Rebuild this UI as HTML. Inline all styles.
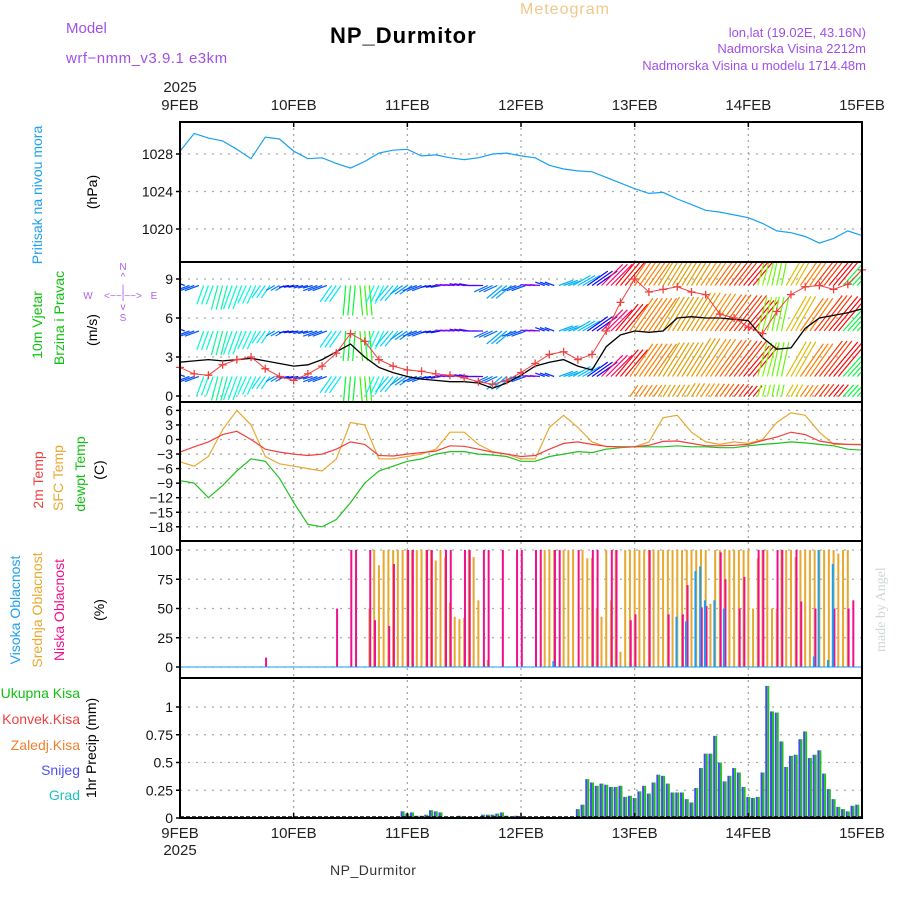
<!DOCTYPE html>
<html><head><meta charset="utf-8"><style>
html,body{margin:0;padding:0;background:#fff;}
svg{display:block;font-family:"Liberation Sans",sans-serif;}
</style></head><body>
<svg id="chart" width="900" height="900" viewBox="0 0 900 900" xmlns="http://www.w3.org/2000/svg">
<defs>
<clipPath id="clipWind"><rect x="180" y="263" width="682" height="138"/></clipPath>
</defs>
<g>
<text x="66" y="33" font-size="15" fill="#a050e8">Model</text>
<text x="66" y="63" font-size="15" fill="#a050e8" letter-spacing="0.5">wrf−nmm_v3.9.1 e3km</text>
<text x="520" y="14" font-size="16" fill="#f0c888" letter-spacing="1">Meteogram</text>
<text x="330" y="43" font-size="22" font-weight="bold" fill="#000" letter-spacing="1">NP_Durmitor</text>
<text x="866" y="37" font-size="13" fill="#a050e8" text-anchor="end">lon,lat (19.02E, 43.16N)</text>
<text x="866" y="53" font-size="13" fill="#a050e8" text-anchor="end">Nadmorska Visina 2212m</text>
<text x="866" y="70" font-size="13" fill="#a050e8" text-anchor="end">Nadmorska Visina u modelu 1714.48m</text>
<text x="330" y="875" font-size="14" fill="#333" letter-spacing="0.5">NP_Durmitor</text>
<text transform="translate(885,652) rotate(-90)" font-size="14" fill="#d0d8d0" font-family="Liberation Serif,serif">made by Angel</text>
</g>
<g font-size="14">
<text transform="translate(42,195) rotate(-90)" text-anchor="middle" fill="#20a0f0">Pritisak na nivou mora</text>
<text transform="translate(97,192) rotate(-90)" text-anchor="middle" fill="#000">(hPa)</text>
<text transform="translate(42,325) rotate(-90)" text-anchor="middle" fill="#10c010">10m Vjetar</text>
<text transform="translate(64,318) rotate(-90)" text-anchor="middle" fill="#10c010">Brzina i Pravac</text>
<text transform="translate(97,330) rotate(-90)" text-anchor="middle" fill="#000">(m/s)</text>
<g fill="#b060f0" font-size="10">
<text x="123" y="270" text-anchor="middle">N</text>
<text x="123" y="280" text-anchor="middle">^</text>
<text x="123" y="292" text-anchor="middle">|</text>
<text x="123" y="310" text-anchor="middle">v</text>
<text x="123" y="321" text-anchor="middle">S</text>
<text x="88" y="299" text-anchor="middle">W</text>
<text x="123" y="299" text-anchor="middle">&lt;−−|−−&gt;</text>
<text x="154" y="299" text-anchor="middle">E</text>
</g>
<text transform="translate(43,480) rotate(-90)" text-anchor="middle" fill="#f04040">2m Temp</text>
<text transform="translate(63,478) rotate(-90)" text-anchor="middle" fill="#e8a830">SFC Temp</text>
<text transform="translate(85,474) rotate(-90)" text-anchor="middle" fill="#10c010">dewpt Temp</text>
<text transform="translate(104,470) rotate(-90)" text-anchor="middle" fill="#000">(C)</text>
<text transform="translate(20,610) rotate(-90)" text-anchor="middle" fill="#20a0f0">Visoka Oblacnost</text>
<text transform="translate(42,610) rotate(-90)" text-anchor="middle" fill="#e8a830">Srednja Oblacnost</text>
<text transform="translate(64,610) rotate(-90)" text-anchor="middle" fill="#f0108a">Niska Oblacnost</text>
<text transform="translate(104,610) rotate(-90)" text-anchor="middle" fill="#000">(%)</text>
<text x="80" y="698" text-anchor="end" fill="#10c010">Ukupna Kisa</text>
<text x="80" y="724" text-anchor="end" fill="#f04040">Konvek.Kisa</text>
<text x="80" y="750" text-anchor="end" fill="#f08030">Zaledj.Kisa</text>
<text x="80" y="775" text-anchor="end" fill="#5050f0">Snijeg</text>
<text x="80" y="800" text-anchor="end" fill="#20c0c0">Grad</text>
<text transform="translate(96,748) rotate(-90)" text-anchor="middle" fill="#000">1hr Precip (mm)</text>
</g>
<g id="grid"></g>
<g id="marks"></g>
<g id="frame"></g>
<g id="axes"></g>
</svg>
<script>
const dayLabels=["9FEB","10FEB","11FEB","12FEB","13FEB","14FEB","15FEB"];
const presTicks=[1028,1024,1020];
const windTicks=[9,6,3,0];
const tempTicks=[6,3,0,-3,-6,-9,-12,-15,-18];
const cloudTicks=[100,75,50,25,0];
const precipTicks=[1,0.75,0.5,0.25,0];
// 3-hourly series (49 values, 0..144h)
const pressure=[1028.3,1030.2,1029.7,1029.4,1028.5,1027.5,1029.8,1029.6,1028.3,1027.5,1027.6,1027.0,1026.5,1027.2,1028.1,1028.4,1028.5,1027.8,1027.9,1027.6,1027.4,1027.6,1028.0,1028.1,1027.8,1027.6,1026.8,1026.4,1026.2,1026.1,1025.5,1024.9,1024.3,1023.8,1023.9,1023.2,1022.6,1022.0,1021.8,1021.5,1021.2,1020.6,1019.8,1019.6,1019.2,1018.5,1019.0,1019.8,1019.3];
const gustSpeed=[2.2,1.7,1.6,2.4,2.8,3.0,2.1,1.5,1.2,1.7,2.3,3.3,4.8,4.2,2.8,2.3,2.0,1.9,1.7,1.6,1.4,1.1,0.9,1.2,1.8,2.5,3.2,3.4,2.8,3.2,5.0,7.2,9.0,8.0,8.2,8.4,8.0,7.8,6.3,6.0,5.3,4.8,6.5,7.8,8.4,8.5,8.2,8.6,9.7];
const windSpeed=[2.6,2.7,2.8,2.7,2.8,2.9,2.7,2.5,2.3,2.4,2.8,3.4,4.0,3.0,2.2,1.8,1.5,1.3,1.2,1.1,1.1,1.0,0.6,1.0,1.6,2.3,2.6,2.8,2.3,2.0,3.8,4.7,5.0,4.9,5.0,6.0,6.1,6.0,6.0,5.9,5.8,4.5,3.6,3.7,5.2,6.0,6.2,6.4,6.7];
const windDir=[290,250,200,195,200,205,215,240,260,255,250,215,185,175,205,220,235,250,260,275,280,270,245,230,250,275,290,70,60,55,45,40,35,35,32,32,32,34,36,38,40,15,12,30,35,38,40,42,42];
const arrowSpeed=[3,3,4,5,5,4,3,2,2,2,3,4,6,6,4,4,3,3,2,2,2,2,3,4,3,2,2,3,4,5,6,7,8,8,8,8,9,9,9,9,8,7,7,8,8,9,9,9,9];
const temp2m=[-2.6,-1.5,-0.5,1.0,1.7,0,-2,-2.6,-3.0,-3.3,-3.0,-2.0,-0.5,-1.0,-3.3,-3.4,-3.0,-2.7,-2.4,-1.3,-1.4,-2.0,-2.6,-3.0,-3.5,-3.3,-2.0,-0.8,-0.5,-1.0,-1.4,-1.5,-1.5,-1.2,-0.4,-0.3,-0.8,-1.3,-1.3,-1.2,-1.0,-0.2,0.5,1.5,1.0,-0.3,-0.8,-1.0,-1.1];
const tempSfc=[-4.6,-5.5,-3.5,2,6,3,-3.5,-5,-5.5,-6,-6.5,-4,3.5,3,-4,-4,-3.5,-3,-2,1.5,1.5,-1,-2.5,-3,-4,-4,2.5,5,2.5,-0.5,-1.5,-1.5,-1.5,-0.5,4.5,5,1.5,-0.5,-1,-0.5,-0.8,0,3.5,5.5,5,1.5,-1,-1,-1];
const dewpt=[-8.5,-9,-12,-9.5,-6.5,-4,-4.5,-8,-13,-17.5,-18,-16.5,-13,-9,-6.5,-5.5,-4.5,-4,-3,-2.5,-2.5,-3,-3.2,-3.5,-4.5,-4.5,-3.5,-3,-2.5,-2.7,-2,-1.7,-1.5,-1.5,-1.5,-1.3,-1.5,-1.5,-1.7,-1.7,-1.3,-1,-0.8,-0.5,-0.7,-1,-1.3,-2,-2.2];
// hourly series (145 values)
const lowCloud=[0,0,0,0,0,0,0,0,0,0,0,0,0,0,0,0,0,0,8,0,0,0,0,0,0,0,0,0,0,0,0,0,0,50,0,0,100,100,0,0,100,40,0,0,35,88,0,0,100,100,0,0,100,100,0,0,100,100,0,0,100,100,0,0,100,100,0,0,100,0,0,100,100,0,0,100,100,0,0,100,100,0,0,0,100,0,0,100,100,0,0,100,100,0,0,40,45,0,0,100,0,0,0,45,0,0,45,70,0,0,51,52,0,0,98,75,0,0,50,77,0,0,100,100,0,0,100,100,0,0,100,56,0,0,50,0,0,0,50,0,0,50,57,0,0];
const midCloud=[0,0,0,0,0,0,0,0,0,0,0,0,0,0,0,0,0,0,0,0,0,0,0,0,0,0,0,0,0,0,0,0,0,0,0,0,0,0,0,0,50,100,87,100,100,100,100,100,100,100,100,100,100,100,91,100,94,55,43,41,42,100,94,57,0,6,0,0,0,0,0,0,0,0,0,0,0,100,100,100,0,100,100,100,0,100,93,93,50,43,100,57,100,13,100,100,100,100,100,100,100,100,100,100,100,100,100,100,100,100,100,100,54,100,100,100,100,100,100,100,100,50,93,100,100,50,50,100,100,100,94,100,100,100,100,100,100,100,100,97,100,100,0];
const highCloud=[0,0,0,0,0,0,0,0,0,0,0,0,0,0,0,0,0,0,0,0,0,0,0,0,0,0,0,0,0,0,0,0,0,0,0,0,0,0,0,0,0,0,0,0,0,0,0,0,0,0,0,0,0,0,0,0,0,0,0,0,0,0,0,0,0,0,0,0,0,0,0,0,0,0,0,0,0,0,0,5,0,0,0,0,0,0,0,0,0,0,0,0,0,0,0,0,0,0,0,0,0,0,0,0,0,43,0,39,0,82,86,57,0,57,0,50,0,0,0,0,0,0,0,0,0,0,0,0,0,0,0,0,0,0,9,100,0,6,88,0,0,0,0,0,0];
const precipTotal=[0,0,0,0,0,0,0,0,0,0,0,0,0,0,0,0,0,0,0,0,0,0,0,0,0,0,0,0,0,0,0,0,0,0,0,0,0,0,0,0,0,0,0,0,0,0,0.01,0.06,0.04,0.05,0.02,0.02,0.03,0.07,0.06,0.05,0.01,0.01,0,0.02,0.01,0.01,0,0.01,0.03,0.03,0.03,0.04,0.05,0.02,0.01,0.02,0.01,0,0,0,0,0,0,0,0,0,0,0.01,0.08,0.12,0.35,0.32,0.29,0.31,0.30,0.28,0.28,0.29,0.19,0.20,0.18,0.24,0.29,0.22,0.32,0.39,0.38,0.31,0.23,0.23,0.23,0.17,0.14,0.27,0.45,0.58,0.58,0.74,0.50,0.33,0.38,0.45,0.41,0.28,0.19,0.18,0.19,0.41,1.19,0.96,0.95,0.69,0.46,0.56,0.57,0.71,0.78,0.54,0.57,0.61,0.40,0.26,0.17,0.10,0.08,0.06,0.11,0.12,0];
const snowPrecip=precipTotal;

const NS="http://www.w3.org/2000/svg";
const X0=180,X1=862,HOURS=144;
const xs=h=>X0+h*(X1-X0)/HOURS;
const yP=p=>154+(1028-p)*9.375;
const yW=v=>396-v*13;
const yT=t=>439.5-t*4.85;
const yC=c=>667-c*1.17;
const yR=v=>818-v*111;
const panels=[[122,262],[262,402],[402,541],[541,678],[678,818]];
const grid=document.getElementById('grid'),marks=document.getElementById('marks'),frame=document.getElementById('frame'),axes=document.getElementById('axes');
function mk(tag,a,parent){const e=document.createElementNS(NS,tag);for(const k in a)e.setAttribute(k,a[k]);parent.appendChild(e);return e;}

for(let d=1;d<6;d++){
  const l=mk('line',{x1:xs(d*24),x2:xs(d*24),y1:122,y2:818,stroke:'#aaa','stroke-width':1.3,'stroke-dasharray':'2,4'},grid);
  
  
}
function hgrid(ticks,ys,fmt){
  ticks.forEach(t=>{
    const y=ys(t);
    const l=mk('line',{x1:X0,x2:X1,y1:y,y2:y,stroke:'#aaa','stroke-width':1.3,'stroke-dasharray':'2,6'},grid);
    
    
    const tk=mk('line',{x1:X0-4,x2:X0,y1:y,y2:y,stroke:'#000','stroke-width':1.5},axes);
    
    
    const tx=mk('text',{x:X0-7,y:y+5,'font-size':14,'text-anchor':'end',fill:'#111'},axes);
    tx.textContent=fmt?fmt(t):String(t).replace('-','−');
    
    
  });
}
hgrid(presTicks,yP);hgrid(windTicks,yW);hgrid(tempTicks,yT);hgrid(cloudTicks,yC);hgrid(precipTicks,yR);

panels.forEach(p=>{
  const r=mk('rect',{x:X0,y:p[0],width:X1-X0,height:p[1]-p[0],fill:'none',stroke:'#000','stroke-width':2},frame);
  
  
});
dayLabels.forEach((lb,i)=>{
  const x=xs(i*24);
  [[110,'x-axis-top-label'],[838,'x-axis-bottom-label']].forEach(([y,n])=>{
    const t=mk('text',{x:x,y:y,'font-size':15,'text-anchor':'middle',fill:'#222'},axes);
    t.textContent=lb;
    
    
  });
  [[122,127],[813,818]].forEach(([a,b])=>{
    const tk=mk('line',{x1:x,x2:x,y1:a,y2:b,stroke:'#000','stroke-width':1.5},axes);
    
    
  });
});
[[92,'year-top'],[855,'year-bottom']].forEach(([y,n])=>{
  const t=mk('text',{x:X0,y:y,'font-size':15,'text-anchor':'middle',fill:'#222'},axes);
  t.textContent='2025';
  
  
});

function line(arr,ys,color,name,w){
  const pts=arr.map((v,i)=>xs(i*3).toFixed(1)+','+ys(v).toFixed(1)).join(' ');
  const l=mk('polyline',{points:pts,fill:'none',stroke:color,'stroke-width':w||1.2},marks);
  
  
  return l;
}
line(pressure,yP,'#1aa0f0','pressure-line');

const hueTable=[[0,120],[15,90],[30,50],[35,30],[40,0],[45,335],[60,195],[75,200],[175,110],[185,130],[200,170],[230,200],[255,225],[275,270],[290,230],[360,120]];
function hueFor(d){for(let i=1;i<hueTable.length;i++){if(d<=hueTable[i][0]){const a=hueTable[i-1],b=hueTable[i];return a[1]+(b[1]-a[1])*(d-a[0])/(b[0]-a[0]);}}return 120;}
const wg=mk('g',{'clip-path':'url(#clipWind)'},marks);


const rows=[8.5,5.0,1.5];
windDir.forEach((d,i)=>{
  for(let sub=-1;sub<=1;sub++){
    const h=i*3+sub; if(h<0||h>HOURS) continue;
    const x=xs(h),rad=d*Math.PI/180,L=arrowSpeed[i]*5;
    const col='hsl('+hueFor(d)+',95%,'+(hueFor(d)>40&&hueFor(d)<80?45:50)+'%)';
    const rr=i>=32?[8.5,5.0,1.5,-0.05]:rows;
    rr.forEach((rv,ri)=>{
      const s=ri==3?0.35:1;
      const x2=x+Math.sin(rad)*L*s,y2=yW(rv)-Math.cos(rad)*L*s;
      const a=mk('line',{x1:x,y1:yW(rv),x2:x2,y2:y2,stroke:col,'stroke-width':1.2},wg);
      
      
    });
  }
});
line(windSpeed,yW,'#000','wind-speed-line',1.3);
line(gustSpeed,yW,'#f04040','gust-line',1);
gustSpeed.forEach((v,i)=>{
  const x=xs(i*3),y=yW(v);
  const m=mk('path',{d:'M'+(x-4)+' '+y+'h8M'+x+' '+(y-4)+'v8',stroke:'#f04040','stroke-width':1.3},marks);
  
  
});

line(dewpt,yT,'#20c020','dewpoint-line');
line(tempSfc,yT,'#e8a830','sfc-temp-line');
line(temp2m,yT,'#f04040','temp-2m-line');

function cloudBars(arr,color,off,name){
  arr.forEach((v,h)=>{
    if(v<=0) return;
    const x=xs(h)+off;
    const b=mk('rect',{x:x-1,y:yC(v),width:2,height:yC(0)-yC(v),fill:color},marks);
    
    
  });
}
cloudBars(midCloud,'#e8a830',0,'mid-cloud-bar');
cloudBars(lowCloud,'#f0108a',0.8,'low-cloud-bar');
cloudBars(highCloud,'#1aa0f0',-0.8,'high-cloud-bar');
const cb=mk('line',{x1:X0,x2:X1,y1:667,y2:667,stroke:'#1aa0f0','stroke-width':1},marks);



precipTotal.forEach((v,h)=>{
  if(v<=0) return;
  const x=xs(h);
  const b1=mk('rect',{x:x-2,y:yR(snowPrecip[h]),width:2,height:yR(0)-yR(snowPrecip[h]),fill:'#4848f0'},marks);
  
  
  const b2=mk('rect',{x:x,y:yR(v),width:2,height:yR(0)-yR(v),fill:'#20c020'},marks);
  
  
});
const zl=mk('line',{x1:X0,x2:X1,y1:817,y2:817,stroke:'#000','stroke-width':1.5,'stroke-dasharray':'4,2'},marks);


</script>
</body></html>
